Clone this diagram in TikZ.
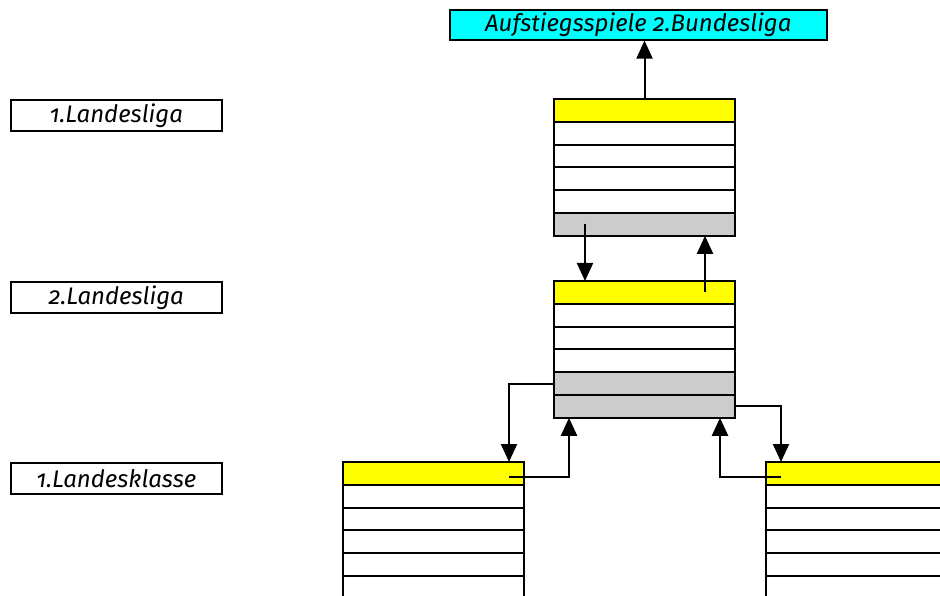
\documentclass[tikz,border=0pt]{standalone}
\usepackage{fontspec}
\setmainfont{Fira Sans}[Numbers=OldStyle]
\usetikzlibrary{arrows.meta,calc}
\definecolor{hdr}{HTML}{FFFF00}
\definecolor{top}{HTML}{00FFFF}
\definecolor{grey}{HTML}{CCCCCC}
\tikzset{
  row/.style={draw=black, line width=2pt, minimum width=181pt, minimum height=22.8pt, anchor=north west, inner sep=0pt, outer sep=0pt},
  lbl/.style={draw=black, line width=1.6pt, fill=white, minimum width=211pt, minimum height=31pt, anchor=north west, inner sep=0pt, font=\fontsize{24}{28}\selectfont\itshape},
  conn/.style={line width=2pt, -{Triangle[length=18pt,width=16pt]}},
}
\newcommand{\mytable}[4]{% name, x, y, list of colours
  \foreach \c [count=\i from 0] in {#4} {
    \node[row, fill=\c] (#1\i) at (#2,{#3+\i*22.8}) {};
  }
}
\begin{document}
\begin{tikzpicture}[x=1pt,y=-1pt]
\clip (0,0) rectangle (940,596);
\fill[white] (0,0) rectangle (940,596);
\node[lbl, fill=top, minimum width=377pt, minimum height=30pt] (bl) at (449,9) {Aufstiegsspiele 2.Bundesliga};
\node[lbl] (l1) at (10,99) {1.Landesliga};
\node[lbl] (l2) at (10,281) {2.Landesliga};
\node[lbl] (l3) at (10,462) {1.Landesklasse};
\mytable{a}{554}{99}{hdr,white,white,white,white,grey}
\mytable{b}{554}{281}{hdr,white,white,white,grey,grey}
\mytable{c}{343}{462}{hdr,white,white,white,white,white}
\mytable{d}{766}{462}{hdr,white,white,white,white,white}
\coordinate (s1) at (585,224);
\coordinate (s2) at (705,292);
\coordinate (s3) at (509,477);
\coordinate (s4) at (781,477);
\draw[conn] (a0.north) -- (a0.north |- bl.south);
\draw[conn] (s1) -- (s1 |- b0.north);
\draw[conn] (s2) -- (s2 |- a5.south);
\draw[conn] (b4.west) -| (s3 |- c0.north);
\draw[conn] (s3) -| ($(b5.south west)+(15,0)$);
\draw[conn] (b5.east) -| (s4 |- d0.north);
\draw[conn] (s4) -| ($(b5.south east)+(-15,0)$);
\end{tikzpicture}
\end{document}
